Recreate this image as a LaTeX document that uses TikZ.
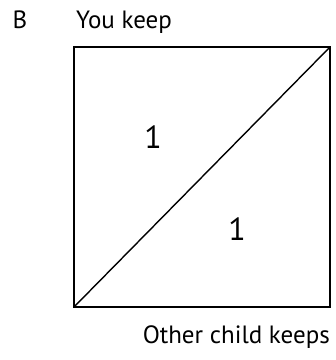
\documentclass[tikz,border=0pt]{standalone}
\usepackage{fontspec}
\setmainfont{PT Sans}
\usetikzlibrary{positioning}
\tikzset{
  lbl/.style={font=\fontsize{25}{28}\selectfont, inner sep=0pt},
  num/.style={font=\fontsize{32}{36}\selectfont, inner sep=0pt}
}
\begin{document}
\begin{tikzpicture}[x=1pt,y=-1pt]
    \useasboundingbox (0,0) rectangle (336,360);
    % square with diagonal
    \coordinate (bl) at (74,307);
    \coordinate (tr) at (330,47);
    \draw[line width=1.6pt] (bl) rectangle (tr);
    \draw[line width=1.4pt] (bl) -- (tr);
    % labels
    \node[lbl, anchor=base] (panel) at (20,28) {B};
    \node[lbl, anchor=base west] (you) at (76,28) {You keep};
    \node[lbl, anchor=base east] (other) at (330,343) {Other child keeps};
    \node[num, anchor=base] (upper) at (153,148) {1};
    \node[num, anchor=base] (lower) at (237,240) {1};
\end{tikzpicture}
\end{document}
